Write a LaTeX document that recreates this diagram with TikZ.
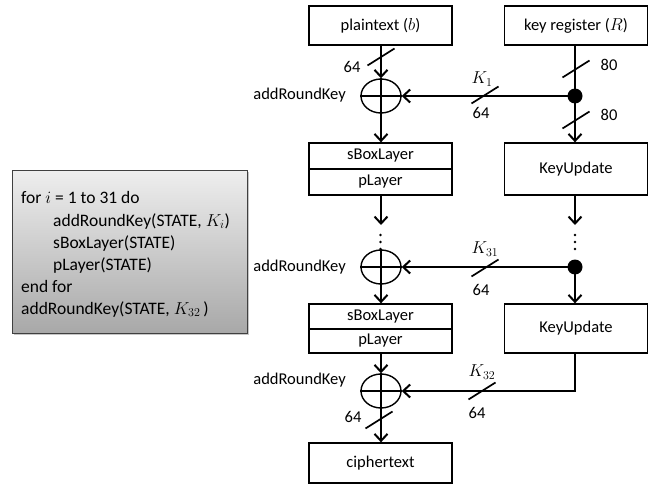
\documentclass[tikz,border=0pt]{standalone}
\usepackage{fontspec}
\setmainfont{Carlito}
\usetikzlibrary{arrows.meta,shapes.geometric,shadows}

\begin{document}
\begin{tikzpicture}[x=1pt,y=-1pt,
  every node/.style={font=\fontsize{16.5}{22}\selectfont},
  box/.style={draw,line width=1.3pt,minimum width=143pt,inner sep=0pt},
  xorop/.style={draw,ellipse,line width=1.4pt,minimum width=40pt,minimum height=34pt,inner sep=0pt},
  junction/.style={circle,fill=black,minimum size=15pt,inner sep=0pt},
  flow/.style={line width=2.4pt,-{Straight Barb[length=7pt,width=13pt,line width=2pt]}},
  wire/.style={line width=2.4pt},
  slashline/.style={line width=1.7pt},
  busmark/.pic={\draw[slashline] (-13.5,8.5) -- (13.5,-8.5);},
  lbl/.style={inner sep=1pt},
  codebox/.style={draw=black!75,line width=1pt,
    top color={rgb,255:red,238;green,238;blue,238},
    bottom color={rgb,255:red,168;green,168;blue,168},
    drop shadow={shadow xshift=1.2pt,shadow yshift=-1.2pt,opacity=.45}},
  codeline/.style={anchor=base west,inner sep=0pt,font=\fontsize{17.5}{22}\selectfont},
  dotcol/.style={circle,fill=black,minimum size=2.6pt,inner sep=0pt}
]
\useasboundingbox (0,0) rectangle (657,487);

% pseudocode of the round loop
\node[codebox,minimum width=235pt,minimum height=163pt,anchor=north west,inner sep=0pt] (code) at (12,170) {};
\node[codeline] (c1) at (21,204) {for $i$ = 1 to 31 do};
\node[codeline] (c2) at (53,226) {addRoundKey(STATE, $K_i$)};
\node[codeline] (c3) at (53,248) {sBoxLayer(STATE)};
\node[codeline] (c4) at (53,270) {pLayer(STATE)};
\node[codeline] (c5) at (21,292) {end for};
\node[codeline] (c6) at (21,314) {addRoundKey(STATE, $K_{32}$\,)};

% data path (left column)
\node[box,minimum height=39pt] (pt) at (380.5,25.5) {plaintext ($b$)};
\node[xorop] (x1) at (381,96) {};
\node[box,minimum height=26pt] (sb1) at (380.5,156) {sBoxLayer};
\node[box,minimum height=26pt] (pl1) at (380.5,182) {pLayer};
\coordinate (d1) at (381,225);
\node[xorop] (x2) at (381,267) {};
\node[box,minimum height=25pt] (sb2) at (380.5,316.5) {sBoxLayer};
\node[box,minimum height=24pt] (pl2) at (380.5,341) {pLayer};
\node[xorop] (x3) at (381,391) {};
\node[box,minimum height=40pt] (ct) at (380.5,463) {ciphertext};

% key schedule (right column)
\node[box,minimum height=39pt] (kr) at (576,25.5) {key register ($R$)};
\node[junction] (j1) at (575,96) {};
\node[box,minimum height=52pt] (ku1) at (576,169) {KeyUpdate};
\coordinate (d2) at (575,225);
\node[junction] (j2) at (575,267) {};
\node[box,minimum height=49pt] (ku2) at (576,328.5) {KeyUpdate};
\coordinate (k3) at (575,391);

% continuation dots
\foreach \yy in {235,242,249} {
  \node[dotcol] at (380.5,\yy) {};
  \node[dotcol] at (575,\yy) {};
}

% round 1
\draw[flow] (pt.south -| x1) -- (x1.north);
\draw[flow] (x1.north) -- (sb1.north -| x1);
\draw[line width=1.4pt] (x1.west) -- (x1.east);
\draw[wire] (kr.south -| j1) -- (j1.center);
\draw[flow] (j1.center) -- (x1.east);
\draw[flow] (j1.center) -- (ku1.north -| j1);

% round 31
\draw[flow] (pl1.south -| x1) -- (d1);
\draw[flow] (ku1.south -| j1) -- (d2);
\draw[flow] (x2.north) -- (sb2.north -| x2);
\draw[line width=1.4pt] (x2.west) -- (x2.east);
\draw[flow] (j2.center) -- (x2.east);
\draw[flow] (j2.center) -- (ku2.north -| j2);

% final key addition
\draw[flow] (pl2.south -| x3) -- (x3.north);
\draw[flow] (x3.north) -- (ct.north -| x3);
\draw[line width=1.4pt] (x3.west) -- (x3.east);
\draw[flow] (ku2.south -| k3) -- (k3) -- (x3.east);

% bus width marks
\pic at (381,57) {busmark};
\pic at (576,69) {busmark};
\pic at (576,120) {busmark};
\pic at (485,95) {busmark};
\pic at (485,268) {busmark};
\pic at (482,391) {busmark};
\pic at (379,420) {busmark};

% labels
\node[lbl] at (352,67) {64};
\node[lbl] at (609,65) {80};
\node[lbl] at (609,115) {80};
\node[lbl] at (482,79) {$K_1$};
\node[lbl] at (481,113) {64};
\node[lbl] at (485,249) {$K_{31}$};
\node[lbl] at (481,290) {64};
\node[lbl] at (482,372) {$K_{32}$};
\node[lbl] at (477,413) {64};
\node[lbl] at (353,417) {64};
\node[lbl,anchor=east] at (347,95) {addRoundKey};
\node[lbl,anchor=east] at (347,267) {addRoundKey};
\node[lbl,anchor=east] at (347,380) {addRoundKey};
\end{tikzpicture}
\end{document}
